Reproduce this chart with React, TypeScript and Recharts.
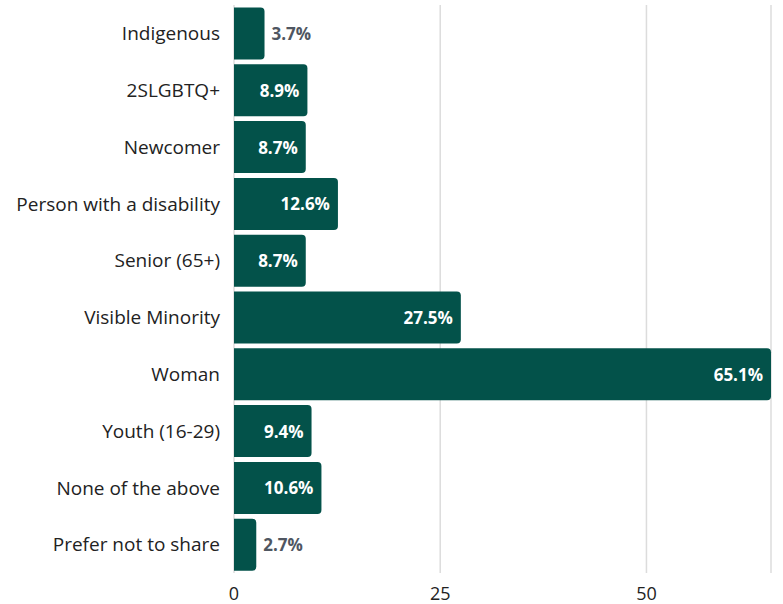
import { BarChart, Bar, XAxis, YAxis, CartesianGrid, LabelList } from 'recharts';

const categories = [
  'Indigenous',
  '2SLGBTQ+',
  'Newcomer',
  'Person with a disability',
  'Senior (65+)',
  'Visible Minority',
  'Woman',
  'Youth (16-29)',
  'None of the above',
  'Prefer not to share',
];

const shares = [3.7, 8.9, 8.7, 12.6, 8.7, 27.5, 65.1, 9.4, 10.6, 2.7];

const xTicks = [0, 25, 50];

const BAR_COLOR = '#03524a';
const FONT = "'Open Sans', 'Noto Sans', sans-serif";

const data = categories.map((name, i) => ({ name, value: shares[i] }));

// small bars get the label outside in grey, the rest inside in white
const renderValue = (props: any) => {
  const { x, y, width, height, value } = props;
  const text = `${Number(value).toFixed(1)}%`;
  const inside = width > 50;
  return (
    <text
      x={inside ? x + width - 8 : x + width + 7}
      y={y + height / 2}
      textAnchor={inside ? 'end' : 'start'}
      dominantBaseline="central"
      fontFamily={FONT}
      fontSize={17}
      fontWeight={700}
      fill={inside ? '#ffffff' : '#4f5661'}
    >
      {text}
    </text>
  );
};

export default function App() {
  return (
    <div style={{ position: 'absolute', left: 0, top: 0, background: '#fff' }}>
      <BarChart
        width={783}
        height={604}
        data={data}
        layout="vertical"
        margin={{ top: 5, right: 12, bottom: 0, left: 0 }}
        barCategoryGap={2.5}
      >
        <CartesianGrid horizontal={false} stroke="#dcdcdc" strokeWidth={1.5} />
        <XAxis
          type="number"
          domain={[0, 'dataMax']}
          ticks={xTicks}
          axisLine={false}
          tickLine={false}
          tickMargin={8}
          height={31}
          tick={{ fill: '#222', fontSize: 18, fontFamily: FONT }}
        />
        <YAxis
          type="category"
          dataKey="name"
          width={234}
          axisLine={false}
          tickLine={false}
          tickMargin={8}
          interval={0}
          tick={{ fill: '#222', fontSize: 19, fontFamily: FONT }}
        />
        <Bar dataKey="value" fill={BAR_COLOR} radius={[0, 4, 4, 0]} isAnimationActive={false}>
          <LabelList dataKey="value" content={renderValue} />
        </Bar>
      </BarChart>
    </div>
  );
}
